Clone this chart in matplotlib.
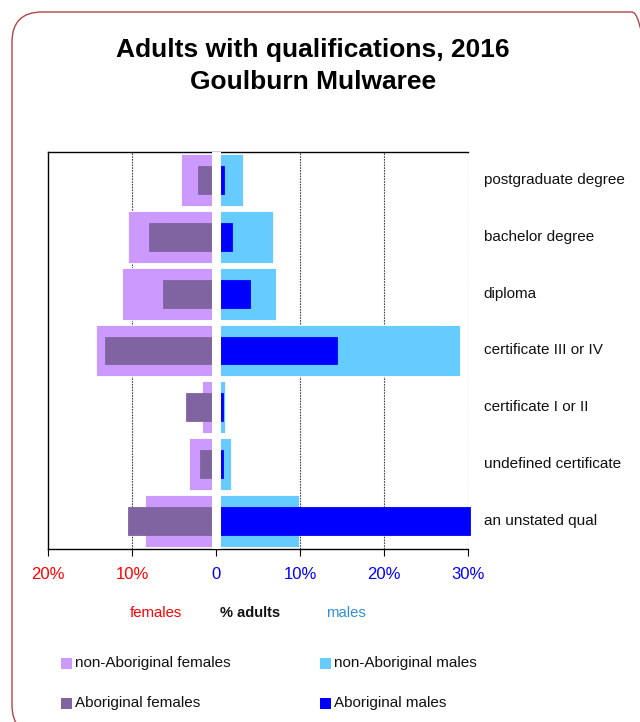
import matplotlib
matplotlib.use("Agg")
import matplotlib.pyplot as plt
from matplotlib.patches import FancyBboxPatch, Rectangle
from matplotlib.transforms import IdentityTransform

# qualification categories, top to bottom
categories = ["postgraduate degree", "bachelor degree", "diploma",
              "certificate III or IV", "certificate I or II",
              "undefined certificate", "an unstated qual"]

# % of adults
non_ab_females = [4.25, 10.5, 11.2, 14.3, 1.75, 3.3, 8.5]
ab_females = [2.2, 8.0, 6.3, 13.2, 3.6, 1.9, 10.5]
non_ab_males = [3.2, 6.8, 7.1, 29.0, 1.0, 1.7, 9.9]
ab_males = [0.95, 1.9, 4.0, 14.4, 0.75, 0.75, 30.2]

tick_vals = [-20, -10, 0, 10, 20, 30]
tick_text = ["20%", "10%", "0", "10%", "20%", "30%"]

plt.rcParams["font.family"] = ["Liberation Sans", "DejaVu Sans"]

fig = plt.figure(figsize=(6.4, 7.22), dpi=100)

# rounded frame around the whole chart
frame = FancyBboxPatch((12, -13), 650, 723, boxstyle="round,pad=0,rounding_size=30",
                       transform=IdentityTransform(), facecolor="none",
                       edgecolor="#B0454A", linewidth=1.0)
fig.patches.append(frame)

fig.text(0.489, 1 - 50 / 722, "Adults with qualifications, 2016",
         ha="center", va="center", fontsize=19, fontweight="bold")
fig.text(0.489, 1 - 82 / 722, "Goulburn Mulwaree",
         ha="center", va="center", fontsize=19, fontweight="bold")

ax = fig.add_axes([0.0755, 0.2392, 0.6562, 0.5507])
y = list(range(len(categories)))

ax.barh(y, [-v for v in non_ab_females], height=0.91, color="#CC99FF",
        edgecolor="white", linewidth=0.6, zorder=1)
ax.barh(y, [-v for v in ab_females], height=0.49, color="#8064A2",
        edgecolor="#8064A2", linewidth=0.6, zorder=1.2)
ax.barh(y, non_ab_males, height=0.91, color="#66CCFF",
        edgecolor="white", linewidth=0.6, zorder=1)
ax.barh(y, ab_males, height=0.49, color="#0000FF",
        edgecolor="#0000FF", linewidth=0.6, zorder=1.2, clip_on=False)

ax.set_xlim(-20, 30)
ax.set_ylim(len(categories) - 0.5, -0.5)

for g in [-10, 10, 20, 30]:
    ax.axvline(g, color="#444444", linestyle=(0, (1.5, 1)), linewidth=0.8, zorder=0)
# white divider at zero
ax.axvline(0, ymin=0, ymax=0.997, color="white", linewidth=6.5, zorder=3)

ax.spines["right"].set_visible(False)
for s in ["top", "left", "bottom"]:
    ax.spines[s].set_linewidth(1.0)

ax.set_yticks([])
ax.set_xticks(tick_vals)
ax.set_xticklabels(tick_text, fontsize=12)
ax.tick_params(axis="x", direction="out", length=5, width=0.8, pad=8)
for lbl, v in zip(ax.get_xticklabels(), tick_vals):
    lbl.set_color("#FF0000" if v < 0 else "#0000FF")

tr = ax.get_yaxis_transform()
for i, c in enumerate(categories):
    ax.text(1.037, i, c, transform=tr, ha="left", va="center",
            fontsize=11, color="#111111")

fig.text(156 / 640, 1 - 613 / 722, "females", ha="center", va="center",
         fontsize=10.7, color="#FF0000")
fig.text(250 / 640, 1 - 613 / 722, "% adults", ha="center", va="center",
         fontsize=10.5, fontweight="bold", color="#111111")
fig.text(346 / 640, 1 - 613 / 722, "males", ha="center", va="center",
         fontsize=10.7, color="#2E90D8")

# legend
legend_items = [("non-Aboriginal females", "#CC99FF", 61, 663),
                ("non-Aboriginal males", "#66CCFF", 320, 663),
                ("Aboriginal females", "#8064A2", 61, 703),
                ("Aboriginal males", "#0000FF", 320, 703)]
for name, col, px, py in legend_items:
    fig.patches.append(Rectangle((px, 722 - py - 5.5), 11, 11,
                                 transform=IdentityTransform(),
                                 facecolor=col, edgecolor="none"))
    fig.text((px + 14) / 640, 1 - py / 722, name, ha="left", va="center",
             fontsize=11, color="#111111")

fig.savefig("out.png", dpi=100)
